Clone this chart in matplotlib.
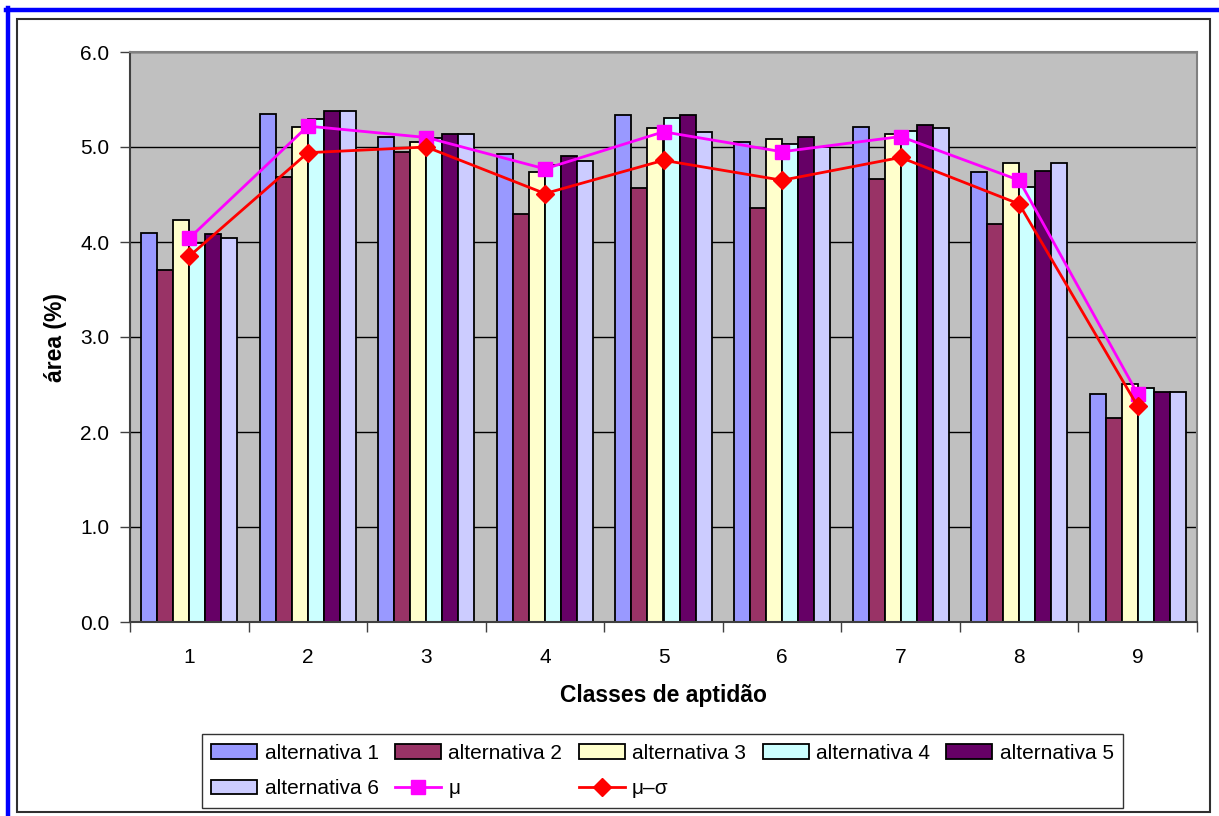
import matplotlib.pyplot as plt
import numpy as np
from matplotlib.lines import Line2D
from matplotlib.patches import Rectangle
from matplotlib.ticker import FormatStrFormatter

plt.rcParams["font.family"] = ["Liberation Sans", "DejaVu Sans"]

classes = ["1", "2", "3", "4", "5", "6", "7", "8", "9"]

alt1 = [4.09, 5.35, 5.11, 4.93, 5.34, 5.05, 5.21, 4.74, 2.40]
alt2 = [3.71, 4.68, 4.95, 4.29, 4.57, 4.36, 4.66, 4.19, 2.15]
alt3 = [4.23, 5.21, 5.05, 4.74, 5.20, 5.08, 5.14, 4.83, 2.51]
alt4 = [3.99, 5.29, 5.09, 4.81, 5.31, 5.03, 5.17, 4.58, 2.46]
alt5 = [4.08, 5.38, 5.14, 4.91, 5.34, 5.11, 5.23, 4.75, 2.42]
alt6 = [4.04, 5.38, 5.14, 4.85, 5.16, 5.00, 5.20, 4.83, 2.42]
mu = [4.04, 5.22, 5.10, 4.77, 5.16, 4.95, 5.11, 4.65, 2.40]
mu_sigma = [3.85, 4.94, 5.00, 4.51, 4.86, 4.65, 4.89, 4.40, 2.27]

alternativas = [alt1, alt2, alt3, alt4, alt5, alt6]
alt_names = [f"alternativa {i}" for i in range(1, 7)]
alt_colors = ["#9999FF", "#993366", "#FFFFCC", "#CCFFFF", "#660066", "#CCCCFF"]

W, H = 1219, 816
fig = plt.figure(figsize=(W / 100, H / 100), dpi=100)
ax = fig.add_axes([130 / W, 1 - 622 / H, 1067 / W, 570 / H])
ax.set_facecolor("#C0C0C0")

x = np.arange(len(classes))
bw = 0.135
bars = []
for i, (vals, name, col) in enumerate(zip(alternativas, alt_names, alt_colors)):
    b = ax.bar(x + (i - 2.5) * bw, vals, bw, color=col, edgecolor="black",
               linewidth=1.3, label=name, zorder=2)
    bars.append(b)

(l_mu,) = ax.plot(x, mu, color="#FF00FF", marker="s", markersize=10,
                  linewidth=2.0, label="\u03bc", zorder=4)
(l_ms,) = ax.plot(x, mu_sigma, color="#FF0000", marker="D", markersize=9,
                  linewidth=2.0, label="\u03bc\u2013\u03c3", zorder=5)

ax.set_xlim(-0.5, len(classes) - 0.5)
ax.set_ylim(0, 6)
ax.set_yticks(np.arange(0, 7, 1))
ax.yaxis.set_major_formatter(FormatStrFormatter("%.1f"))
ax.yaxis.grid(True, color="black", linewidth=1.0)
ax.set_axisbelow(True)

ax.set_xticks(np.arange(-0.5, len(classes), 1))
ax.set_xticklabels([])
ax.set_xticks(x, minor=True)
ax.set_xticklabels(classes, minor=True)
ax.tick_params(axis="x", which="major", direction="out", length=7, width=1, colors="#404040")
ax.tick_params(axis="x", which="minor", length=0, pad=19, labelsize=15, labelcolor="black")
ax.tick_params(axis="y", direction="out", length=7, width=1, colors="#404040",
               labelsize=15, labelcolor="black", pad=8)

for side in ["top", "right"]:
    ax.spines[side].set_color("#808080")
    ax.spines[side].set_linewidth(1.5)
ax.spines["left"].set_color("#404040")
ax.spines["left"].set_linewidth(1.5)
ax.spines["bottom"].set_color("#404040")
ax.spines["bottom"].set_linewidth(1.5)

ax.set_xlabel("Classes de aptidão", fontsize=16.5, fontweight="bold", labelpad=12)
ax.set_ylabel("área (%)", fontsize=16.5, fontweight="bold", labelpad=9)

# legend: row 1 = alt 1..5, row 2 = alt 6, mu, mu-sigma
handles = [bars[0], bars[5], bars[1], l_mu, bars[2], l_ms, bars[3], bars[4]]
labels = [h.get_label() for h in handles]
leg = fig.legend(handles, labels, ncol=5, loc="center",
                 bbox_to_anchor=(662.5 / W, 1 - 771 / H), fontsize=15,
                 frameon=True, fancybox=False, edgecolor="black",
                 handlelength=2.2, handleheight=0.7, handletextpad=0.35,
                 columnspacing=0.8, labelspacing=0.8, borderpad=0.45,
                 borderaxespad=0)
leg.get_frame().set_linewidth(1.0)

# chart frame and blue outer border
fig.add_artist(Rectangle((17 / W, 1 - 812 / H), (1210 - 17) / W, (812 - 19) / H,
                         transform=fig.transFigure, fill=False,
                         edgecolor="#303030", linewidth=1.5))
fig.add_artist(Line2D([8 / W, 8 / W], [0, 1 - 8 / H], transform=fig.transFigure,
                      color="#0000FF", linewidth=3.2))
fig.add_artist(Line2D([6 / W, 1], [1 - 10 / H, 1 - 10 / H], transform=fig.transFigure,
                      color="#0000FF", linewidth=3.2))

fig.savefig("out.png", dpi=100)
